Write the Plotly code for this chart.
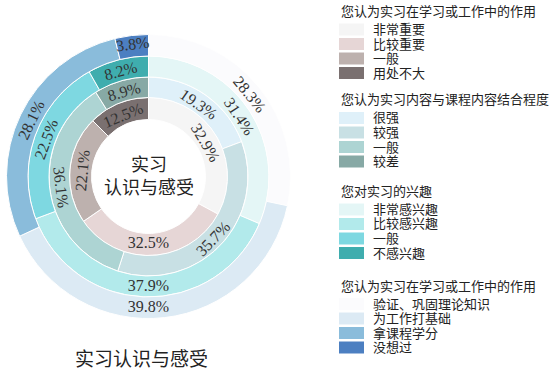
import math
import plotly.graph_objects as go

# ---------------- data ----------------
center_title = "实习<br>认识与感受"
chart_title = "实习认识与感受"

group_titles = [
    "您认为实习在学习或工作中的作用",
    "您认为实习内容与课程内容结合程度",
    "您对实习的兴趣",
    "您认为实习在学习或工作中的作用",
]

ring1_labels = ["非常重要", "比较重要", "一般", "用处不大"]
ring1_values = [32.9, 32.5, 22.1, 12.5]
ring1_colors = ["#f5f5f5", "#e6d6d6", "#bdb1ae", "#7a7070"]

ring2_labels = ["很强", "较强", "一般", "较差"]
ring2_values = [19.3, 35.7, 36.1, 8.9]
ring2_colors = ["#dff0f9", "#c8e0e4", "#add4d3", "#87a9a5"]

ring3_labels = ["非常感兴趣", "比较感兴趣", "一般", "不感兴趣"]
ring3_values = [31.4, 37.9, 22.5, 8.2]
ring3_colors = ["#e4f6f6", "#b2eaeb", "#7ed8e1", "#3fadae"]

ring4_labels = ["验证、巩固理论知识", "为工作打基础", "拿课程学分", "没想过"]
ring4_values = [28.3, 39.8, 28.1, 3.8]
ring4_colors = ["#fbfbfd", "#dceaf4", "#8abcdb", "#4c7fc1"]

rings = [
    (ring1_labels, ring1_values, ring1_colors),
    (ring2_labels, ring2_values, ring2_colors),
    (ring3_labels, ring3_values, ring3_colors),
    (ring4_labels, ring4_values, ring4_colors),
]

# ---------------- layout constants (pixels) ----------------
W, H = 557, 374
CX, CY = 148.5, 176.5
ring_radii = [(57, 79), (79, 99.5), (99.5, 120.5), (120.5, 142)]

FONT = "Liberation Serif, Noto Sans CJK SC, serif"
LABEL_FONT = dict(family=FONT, size=16, color="#333333")

# slices whose label is kept at the slice's own middle angle
# (plotly would otherwise move a wide slice's label to the bottom)
mid_angle_labels = {(1, 1)}


def px_x(x):
    return x / W


def px_y(y):
    return 1 - y / H


fig = go.Figure()
annotations = []
shapes = []

for ri, ((labels, values, colors), (r_in, r_out)) in enumerate(zip(rings, ring_radii)):
    total = sum(values)
    templates = []
    cum = 0.0
    for si, v in enumerate(values):
        if (ri, si) in mid_angle_labels:
            templates.append(" ")
            theta = 2 * math.pi * (cum + v / 2) / total
            r_mid = (r_in + r_out) / 2
            deg = math.degrees(theta)
            annotations.append(dict(
                x=px_x(CX + r_mid * math.sin(theta)),
                y=px_y(CY - r_mid * math.cos(theta)),
                xref="paper", yref="paper",
                text=f"{v:.1f}%", showarrow=False,
                textangle=((deg + 90) % 180) - 90,
                font=LABEL_FONT,
                xanchor="center", yanchor="middle",
            ))
        else:
            templates.append("%{value:.1f}%")
        cum += v
    fig.add_trace(go.Pie(
        labels=labels,
        values=values,
        sort=False,
        direction="clockwise",
        rotation=0,
        hole=r_in / r_out,
        domain=dict(x=[px_x(CX - r_out), px_x(CX + r_out)],
                    y=[px_y(CY + r_out), px_y(CY - r_out)]),
        marker=dict(colors=colors, line=dict(color="white", width=1)),
        texttemplate=templates,
        textposition="inside",
        insidetextorientation="tangential",
        insidetextfont=LABEL_FONT,
        hoverinfo="label+percent",
        showlegend=False,
    ))

# centre text and bottom title
annotations.append(dict(
    x=px_x(CX), y=px_y(CY), xref="paper", yref="paper",
    text=center_title, showarrow=False,
    font=dict(family=FONT, size=18, color="#222222"),
    xanchor="center", yanchor="middle", align="center",
))
annotations.append(dict(
    x=px_x(141.5), y=px_y(359), xref="paper", yref="paper",
    text=chart_title, showarrow=False,
    font=dict(family=FONT, size=19, color="#222222"),
    xanchor="center", yanchor="middle",
))

# compact legend, like the reference
title_y = [11.5, 100, 191.5, 286]
item_gap = 14.5
first_item_offset = 18
for gi, (gtitle, (labels, values, colors)) in enumerate(zip(group_titles, rings)):
    ty = title_y[gi]
    annotations.append(dict(
        x=px_x(339), y=px_y(ty), xref="paper", yref="paper",
        text=gtitle, showarrow=False,
        font=dict(family=FONT, size=13, color="#222222"),
        xanchor="left", yanchor="middle",
    ))
    for ii, (lab, col) in enumerate(zip(labels, colors)):
        iy = ty + first_item_offset + ii * item_gap
        shapes.append(dict(
            type="rect", xref="paper", yref="paper",
            x0=px_x(339), x1=px_x(364),
            y0=px_y(iy - 6), y1=px_y(iy + 6),
            fillcolor=col, line=dict(width=0),
        ))
        annotations.append(dict(
            x=px_x(371), y=px_y(iy), xref="paper", yref="paper",
            text=lab, showarrow=False,
            font=dict(family=FONT, size=13, color="#222222"),
            xanchor="left", yanchor="middle",
        ))

fig.update_layout(
    width=W, height=H,
    margin=dict(l=0, r=0, t=0, b=0),
    paper_bgcolor="white",
    plot_bgcolor="white",
    showlegend=False,
    uniformtext=dict(minsize=16, mode="show"),
    shapes=shapes,
    annotations=annotations,
    font=dict(family=FONT),
)

fig.write_html(
    "out.html",
    config={"displayModeBar": False},
    post_script="document.body.style.margin='0px';",
)
